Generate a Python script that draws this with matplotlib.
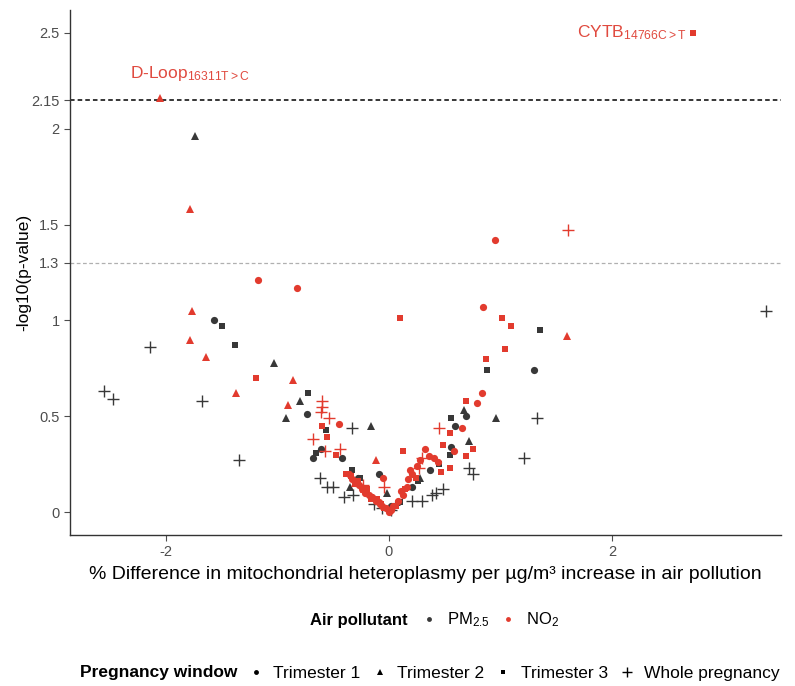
import matplotlib
matplotlib.use("Agg")
import matplotlib.pyplot as plt
from matplotlib.lines import Line2D

plt.rcParams['font.family'] = ['Liberation Sans', 'DejaVu Sans']
plt.rcParams['mathtext.fontset'] = 'custom'
plt.rcParams['mathtext.rm'] = 'Liberation Sans'
plt.rcParams['mathtext.it'] = 'Liberation Sans:italic'
plt.rcParams['mathtext.bf'] = 'Liberation Sans:bold'

# NO2 (red)
no2_t1_x = [-1.17, -0.82, 0.95, 0.84, 0.83, 0.79, 0.65, 0.58, 0.32, -0.45, 0.36, 0.40,
            0.44, 0.21, 0.17, 0.16, 0.13, 0.08, 0.04, 0.02, 0.25, 0.28, -0.36, -0.33,
            -0.30, -0.27, -0.24, -0.21, -0.18, -0.15, -0.12, -0.09, -0.06, -0.03, 0.0,
            0.11, 0.19, -0.08, -0.05]
no2_t1_y = [1.21, 1.17, 1.42, 1.07, 0.62, 0.57, 0.44, 0.32, 0.33, 0.46, 0.29, 0.28,
            0.26, 0.20, 0.17, 0.13, 0.09, 0.06, 0.03, 0.01, 0.24, 0.27, 0.20, 0.17,
            0.15, 0.14, 0.12, 0.10, 0.09, 0.08, 0.06, 0.05, 0.03, 0.02, 0.0,
            0.11, 0.22, 0.04, 0.18]
no2_t2_x = [-2.05, -1.78, -1.76, -1.78, -1.64, -1.37, -0.86, -0.90, -0.12, 1.59, -0.30, -0.22]
no2_t2_y = [2.16, 1.58, 1.05, 0.90, 0.81, 0.62, 0.69, 0.56, 0.27, 0.92, 0.15, 0.12]
no2_t3_x = [2.72, 0.10, 1.01, 1.09, 1.04, 0.87, 0.69, 0.55, 0.48, 0.75, 0.69, 0.55, 0.47,
            -1.19, -0.60, -0.55, 0.13, -0.38, -0.47, -0.34, -0.28, -0.20, -0.16, -0.11,
            -0.07, -0.04, 0.06, 0.14, 0.24]
no2_t3_y = [2.50, 1.01, 1.01, 0.97, 0.85, 0.80, 0.58, 0.41, 0.35, 0.33, 0.29, 0.23, 0.21,
            0.70, 0.45, 0.39, 0.32, 0.20, 0.30, 0.19, 0.16, 0.12, 0.07, 0.07,
            0.04, 0.02, 0.03, 0.12, 0.18]
no2_wp_x = [1.60, -0.60, -0.60, -0.61, -0.54, -0.68, -0.57, -0.44, 0.45, 0.30, 0.27, -0.04, -0.23]
no2_wp_y = [1.47, 0.58, 0.55, 0.52, 0.49, 0.38, 0.32, 0.33, 0.44, 0.28, 0.23, 0.13, 0.14]

# PM2.5 (dark)
pm_t1_x = [-1.57, 1.30, -0.73, -0.68, -0.61, -0.42, 0.59, 0.69, 0.56, -0.09, -0.28, 0.37,
           0.21, 0.08, -0.16, 0.02]
pm_t1_y = [1.00, 0.74, 0.51, 0.28, 0.33, 0.28, 0.45, 0.50, 0.34, 0.20, 0.18, 0.22,
           0.13, 0.05, 0.08, 0.03]
pm_t2_x = [-1.74, -1.03, -0.80, -0.92, -0.16, 0.72, 0.67, 0.96, -0.02, -0.35, 0.28]
pm_t2_y = [1.96, 0.78, 0.58, 0.49, 0.45, 0.37, 0.53, 0.49, 0.10, 0.13, 0.18]
pm_t3_x = [-1.49, -1.38, -0.72, 1.35, 0.88, -0.56, 0.56, 0.55, -0.33, -0.26, 0.26, -0.65,
           0.45, -0.20, 0.10]
pm_t3_y = [0.97, 0.87, 0.62, 0.95, 0.74, 0.43, 0.49, 0.30, 0.22, 0.18, 0.16, 0.31,
           0.25, 0.10, 0.05]
pm_wp_x = [3.38, -2.14, -2.55, -2.47, -1.67, -1.34, -0.33, -0.62, -0.55, -0.50, -0.40, -0.32,
           -0.13, -0.06, 0.21, 0.30, 0.39, 0.48, 0.72, 0.75, 1.33, 1.21, 0.42, 0.02]
pm_wp_y = [1.05, 0.86, 0.63, 0.59, 0.58, 0.27, 0.44, 0.18, 0.13, 0.13, 0.08, 0.09,
           0.04, 0.02, 0.06, 0.06, 0.09, 0.12, 0.23, 0.20, 0.49, 0.28, 0.10, 0.01]

y_ticks = [0, 0.5, 1, 1.3, 1.5, 2, 2.15, 2.5]
y_tick_labels = ['0', '0.5', '1', '1.3', '1.5', '2', '2.15', '2.5']
x_ticks = [-2, 0, 2]
x_tick_labels = ['-2', '0', '2']

dark = '#383838'
red = '#E23B2E'

fig = plt.figure(figsize=(7.95, 6.86), dpi=100)
ax = fig.add_axes([70/795, 1-535/686, (781-70)/795, (535-10)/686])

ax.axhline(2.15, color='black', ls=(0, (3, 2)), lw=1.1, zorder=1)
ax.axhline(1.3, color='#b0b0b0', ls=(0, (3, 2)), lw=0.9, zorder=1)

def draw(xs, ys, color, mk):
    if mk == '+':
        ax.plot(xs, ys, ls='none', marker='+', ms=8.5, mew=1.0, color=color, zorder=3)
    elif mk == '^':
        ax.plot(xs, ys, ls='none', marker='^', ms=5.5, mew=0, color=color, zorder=3)
    elif mk == 's':
        ax.plot(xs, ys, ls='none', marker='s', ms=4.8, mew=0, color=color, zorder=3)
    else:
        ax.plot(xs, ys, ls='none', marker='o', ms=5.2, mew=0, color=color, zorder=3)

draw(pm_wp_x, pm_wp_y, dark, '+')
draw(pm_t1_x, pm_t1_y, dark, 'o')
draw(pm_t2_x, pm_t2_y, dark, '^')
draw(pm_t3_x, pm_t3_y, dark, 's')
draw(no2_wp_x, no2_wp_y, red, '+')
draw(no2_t1_x, no2_t1_y, red, 'o')
draw(no2_t2_x, no2_t2_y, red, '^')
draw(no2_t3_x, no2_t3_y, red, 's')

ax.text(-2.32, 2.29, r'D-Loop$_{\mathregular{16311T>C}}$', color='#E04A3F', fontsize=12.5,
        va='center', ha='left')
ax.text(2.66, 2.50, r'CYTB$_{\mathregular{14766C>T}}$', color='#E04A3F', fontsize=12.5,
        va='center', ha='right')

ax.set_xlim(-2.855, 3.51)
ax.set_ylim(-0.12, 2.62)
ax.set_xticks(x_ticks)
ax.set_xticklabels(x_tick_labels)
ax.set_yticks(y_ticks)
ax.set_yticklabels(y_tick_labels)
ax.tick_params(colors='#4d4d4d', labelsize=10.5, length=4, width=0.8)
for s in ['top', 'right']:
    ax.spines[s].set_visible(False)
for s in ['left', 'bottom']:
    ax.spines[s].set_color('#333333')
    ax.spines[s].set_linewidth(1.0)

ax.set_xlabel('% Difference in mitochondrial heteroplasmy per µg/m³ increase in air pollution',
              fontsize=14, color='black', labelpad=5)
ax.set_ylabel('-log10(p-value)', fontsize=12.5, color='black', labelpad=0)

# legends
fig.text(408/795, 1-620/686, 'Air pollutant', ha='right', va='center', fontsize=12,
         fontweight='bold')
h1 = [Line2D([], [], ls='none', marker='o', ms=3.5, mew=0, color=dark),
      Line2D([], [], ls='none', marker='o', ms=3.5, mew=0, color=red)]
fig.legend(h1, ['PM$_{2.5}$', 'NO$_2$'], loc='center left',
           bbox_to_anchor=(422/795, 1-620/686), ncol=2, frameon=False, fontsize=12,
           handlelength=0.8, handletextpad=0.7, columnspacing=0.7, borderpad=0,
           borderaxespad=0)

fig.text(237/795, 1-673/686, 'Pregnancy window', ha='right', va='center', fontsize=12.5,
         fontweight='bold')
h2 = [Line2D([], [], ls='none', marker='o', ms=3.5, mew=0, color='black'),
      Line2D([], [], ls='none', marker='^', ms=4, mew=0, color='black'),
      Line2D([], [], ls='none', marker='s', ms=3.5, mew=0, color='black'),
      Line2D([], [], ls='none', marker='+', ms=7, mew=1, color='black')]
fig.legend(h2, ['Trimester 1', 'Trimester 2', 'Trimester 3', 'Whole pregnancy'],
           loc='center left', bbox_to_anchor=(249/795, 1-673/686), ncol=4, frameon=False,
           fontsize=12.5, handlelength=0.8, handletextpad=0.6, columnspacing=0.7,
           borderpad=0, borderaxespad=0)

fig.savefig('out.png', dpi=100)
